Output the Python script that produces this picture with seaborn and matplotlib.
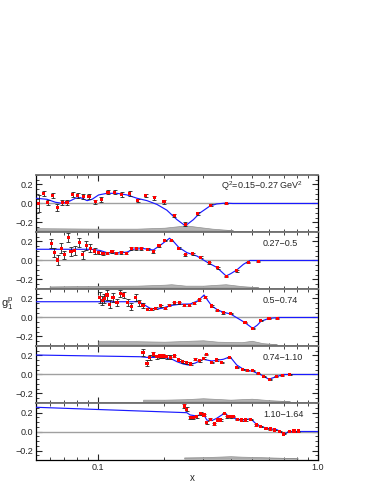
import matplotlib
matplotlib.use("Agg")
import matplotlib.pyplot as plt
from matplotlib.ticker import FixedLocator, MultipleLocator, NullFormatter
import seaborn as sns
import pandas as pd

# measured g1p in five Q^2 bins (x, value, stat error)
x1 = [0.0536, 0.0564, 0.0589, 0.062, 0.0649, 0.0684, 0.072, 0.0764, 0.0805, 0.0852, 0.0907, 0.0969,
      0.1032, 0.1107, 0.1186, 0.128, 0.139, 0.151, 0.164, 0.18, 0.199, 0.2216, 0.249, 0.283, 0.325, 0.382]
y1 = [0.0, 0.105, 0.007, 0.084, -0.045, 0.007, 0.014, 0.095, 0.084, 0.077, 0.07, 0.018,
      0.042, 0.12, 0.12, 0.095, 0.105, 0.032, 0.084, 0.06, 0.018, -0.126, -0.22, -0.105, -0.018, -0.003]
e1 = [0.09, 0.03, 0.025, 0.03, 0.035, 0.025, 0.025, 0.025, 0.025, 0.025, 0.025, 0.02,
      0.025, 0.025, 0.025, 0.025, 0.025, 0.02, 0.02, 0.02, 0.02, 0.02, 0.02, 0.015, 0.01, 0.005]

x2 = [0.061, 0.0631, 0.0653, 0.0677, 0.070, 0.0728, 0.0751, 0.078, 0.082, 0.0848, 0.0882, 0.092, 0.0962,
      0.1003, 0.105, 0.110, 0.1154, 0.1207, 0.127, 0.134, 0.141, 0.149, 0.157, 0.1675, 0.178, 0.189,
      0.201, 0.215, 0.232, 0.249, 0.269, 0.292, 0.32, 0.349, 0.382, 0.427, 0.482, 0.535]
y2 = [0.178, 0.085, 0.005, 0.13, 0.06, 0.24, 0.095, 0.106, 0.19, 0.06, 0.157, 0.13, 0.1,
      0.085, 0.07, 0.078, 0.095, 0.078, 0.085, 0.078, 0.13, 0.13, 0.13, 0.12, 0.095, 0.157,
      0.21, 0.21, 0.13, 0.06, 0.07, 0.035, -0.024, -0.078, -0.168, -0.11, -0.024, -0.013]
e2 = [0.05, 0.045, 0.055, 0.05, 0.045, 0.045, 0.045, 0.045, 0.05, 0.045, 0.05, 0.04, 0.03,
      0.015, 0.012, 0.012, 0.012, 0.012, 0.012, 0.012, 0.015, 0.015, 0.015, 0.012, 0.012, 0.012,
      0.01, 0.01, 0.01, 0.008, 0.008, 0.008, 0.008, 0.008, 0.008, 0.008, 0.005, 0.005]

x3 = [0.1014, 0.104, 0.1065, 0.1095, 0.1126, 0.1166, 0.1216, 0.1259, 0.1303, 0.1359, 0.1413, 0.1477,
      0.1536, 0.1597, 0.1675, 0.1754, 0.1829, 0.1928, 0.2016, 0.2109, 0.2215, 0.2335, 0.246, 0.2592,
      0.274, 0.2887, 0.3064, 0.3287, 0.3486, 0.3711, 0.401, 0.4656, 0.505, 0.549, 0.599, 0.653]
y3 = [0.21, 0.177, 0.2, 0.237, 0.14, 0.21, 0.156, 0.255, 0.237, 0.156, 0.114, 0.213,
      0.156, 0.13, 0.086, 0.086, 0.097, 0.124, 0.097, 0.13, 0.156, 0.156, 0.13, 0.13,
      0.15, 0.184, 0.213, 0.121, 0.072, 0.05, 0.044, -0.055, -0.114, -0.034, -0.008, -0.008]
e3 = [0.06, 0.05, 0.05, 0.05, 0.045, 0.045, 0.04, 0.035, 0.035, 0.04, 0.04, 0.035,
      0.03, 0.025, 0.01, 0.01, 0.01, 0.01, 0.01, 0.01, 0.01, 0.01, 0.01, 0.01,
      0.008, 0.008, 0.008, 0.008, 0.008, 0.008, 0.008, 0.006, 0.006, 0.005, 0.005, 0.005]

x4 = [0.1597, 0.1665, 0.171, 0.178, 0.185, 0.191, 0.198, 0.205, 0.2125, 0.2215, 0.232, 0.2425,
      0.253, 0.2638, 0.276, 0.289, 0.3013, 0.31, 0.329, 0.346, 0.365, 0.395, 0.427, 0.455,
      0.477, 0.505, 0.535, 0.566, 0.603, 0.646, 0.688, 0.745]
y4 = [0.23, 0.118, 0.18, 0.216, 0.187, 0.195, 0.195, 0.187, 0.18, 0.195, 0.153, 0.135,
      0.124, 0.11, 0.16, 0.145, 0.17, 0.21, 0.124, 0.153, 0.124, 0.18, 0.076, 0.055,
      0.04, 0.04, 0.012, -0.023, -0.05, -0.023, -0.01, 0.0]
e4 = [0.035, 0.03, 0.025, 0.02, 0.02, 0.02, 0.02, 0.02, 0.02, 0.015, 0.015, 0.012,
      0.012, 0.012, 0.01, 0.01, 0.01, 0.01, 0.008, 0.008, 0.008, 0.008, 0.006, 0.006,
      0.006, 0.006, 0.005, 0.005, 0.005, 0.005, 0.005, 0.005]

x5 = [0.246, 0.253, 0.262, 0.271, 0.281, 0.293, 0.303, 0.312, 0.323, 0.337, 0.349, 0.361, 0.374,
      0.387, 0.401, 0.412, 0.43, 0.45, 0.47, 0.494, 0.523, 0.548, 0.58, 0.606, 0.635, 0.67,
      0.70, 0.74, 0.778, 0.813]
y5 = [0.268, 0.234, 0.15, 0.15, 0.156, 0.19, 0.174, 0.093, 0.128, 0.079, 0.121, 0.121, 0.19,
      0.156, 0.156, 0.156, 0.128, 0.121, 0.121, 0.128, 0.068, 0.05, 0.034, 0.026, 0.016, -0.002,
      -0.026, -0.002, 0.005, 0.005]
e5 = [0.02, 0.02, 0.015, 0.015, 0.015, 0.015, 0.015, 0.015, 0.012, 0.012, 0.012, 0.01, 0.01,
      0.01, 0.01, 0.008, 0.008, 0.008, 0.008, 0.008, 0.006, 0.006, 0.005, 0.005, 0.005, 0.005,
      0.005, 0.005, 0.005, 0.005]

# model curves
cx1 = [0.052, 0.0584, 0.0637, 0.0684, 0.0733, 0.0786, 0.0828, 0.0889, 0.0936, 0.1003, 0.1095, 0.1216,
       0.135, 0.15, 0.1665, 0.185, 0.205, 0.228, 0.249, 0.271, 0.29, 0.323, 0.346, 0.378, 0.41, 1.0]
cy1 = [0.055, 0.044, 0.013, 0.002, 0.02, 0.055, 0.062, 0.03, 0.044, 0.09, 0.107, 0.107,
       0.09, 0.055, 0.03, -0.01, -0.07, -0.17, -0.235, -0.17, -0.1, -0.025, -0.005, 0.004, 0.0, 0.0]

cx2 = [0.052, 0.093, 0.102, 0.1095, 0.1216, 0.135, 0.145, 0.161, 0.178, 0.195, 0.211, 0.22,
       0.232, 0.253, 0.281, 0.316, 0.346, 0.382, 0.40, 0.427, 0.458, 0.49, 0.535, 1.0]
cy2 = [0.118, 0.118, 0.105, 0.082, 0.078, 0.088, 0.12, 0.125, 0.11, 0.174, 0.234, 0.2,
       0.14, 0.083, 0.047, -0.024, -0.072, -0.163, -0.14, -0.1, -0.04, 0.0, 0.0, 0.0]

cx3 = [0.052, 0.152, 0.16, 0.172, 0.185, 0.197, 0.212, 0.236, 0.262, 0.285, 0.303, 0.314,
       0.329, 0.35, 0.371, 0.40, 0.44, 0.466, 0.505, 0.53, 0.55, 0.598, 0.66, 1.0]
cy3 = [0.166, 0.166, 0.14, 0.097, 0.088, 0.1, 0.125, 0.14, 0.142, 0.177, 0.237, 0.184,
       0.12, 0.079, 0.055, 0.037, -0.02, -0.055, -0.115, -0.08, -0.04, -0.01, 0.0, 0.0]

cx4 = [0.052, 0.155, 0.1665, 0.185, 0.2125, 0.228, 0.244, 0.257, 0.276, 0.285, 0.30, 0.329,
       0.371, 0.398, 0.427, 0.458, 0.509, 0.553, 0.598, 0.646, 0.694, 1.0]
cy4 = [0.205, 0.187, 0.18, 0.18, 0.17, 0.135, 0.11, 0.1, 0.12, 0.135, 0.16, 0.142,
       0.16, 0.187, 0.1, 0.055, 0.03, -0.005, -0.05, -0.023, 0.0, 0.0]

cx5 = [0.052, 0.253, 0.262, 0.281, 0.30, 0.312, 0.329, 0.346, 0.374, 0.398, 0.427, 0.458,
       0.494, 0.523, 0.553, 0.60, 0.65, 0.70, 0.745, 1.0]
cy5 = [0.255, 0.198, 0.174, 0.163, 0.19, 0.12, 0.115, 0.139, 0.19, 0.156, 0.13, 0.121,
       0.135, 0.08, 0.05, 0.03, 0.02, -0.026, 0.0, 0.0]

# systematic error bands (height above the band floor)
bx1 = [0.052, 0.1, 0.15, 0.2, 0.23, 0.25, 0.28, 0.33, 0.41]
bh1 = [0.025, 0.02, 0.02, 0.03, 0.045, 0.055, 0.04, 0.02, 0.003]
bx2 = [0.06, 0.1, 0.15, 0.2, 0.215, 0.25, 0.3, 0.38, 0.45, 0.535]
bh2 = [0.012, 0.018, 0.02, 0.03, 0.035, 0.02, 0.02, 0.035, 0.015, 0.003]
bx3 = [0.1, 0.15, 0.2, 0.3, 0.35, 0.45, 0.5, 0.56, 0.65]
bh3 = [0.035, 0.035, 0.03, 0.045, 0.03, 0.025, 0.04, 0.015, 0.003]
bx4 = [0.16, 0.2, 0.25, 0.3, 0.4, 0.5, 0.6, 0.745]
bh4 = [0.02, 0.02, 0.025, 0.035, 0.02, 0.03, 0.015, 0.003]
bx5 = [0.246, 0.3, 0.35, 0.4, 0.45, 0.55, 0.65, 0.81]
bh5 = [0.012, 0.015, 0.02, 0.025, 0.02, 0.015, 0.01, 0.003]

bin_labels = [r"$\mathregular{Q^2}$=0.15$-$0.27 GeV$\mathregular{^2}$",
              "0.27\u22120.5", "0.5\u22120.74", "0.74\u22121.10", "1.10\u22121.64"]

sns.set_style("ticks")
plt.rcParams["font.family"] = ["Liberation Sans", "DejaVu Sans"]
plt.rcParams["mathtext.fontset"] = "custom"
plt.rcParams["mathtext.rm"] = "Liberation Sans"

fig, axes = plt.subplots(5, 1, sharex=True, figsize=(3.83, 4.95), dpi=100)
fig.subplots_adjust(left=0.094, right=0.830, top=0.6465, bottom=0.0707, hspace=0)

panels = [(x1, y1, e1, cx1, cy1, bx1, bh1), (x2, y2, e2, cx2, cy2, bx2, bh2),
          (x3, y3, e3, cx3, cy3, bx3, bh3), (x4, y4, e4, cx4, cy4, bx4, bh4),
          (x5, y5, e5, cx5, cy5, bx5, bh5)]
floor = -0.285

for i, (ax, (xs, ys, es, cx, cy, bx, bh)) in enumerate(zip(axes, panels)):
    ax.set_xscale("log")
    ax.axhline(0, color="#a0a0a0", lw=1.0, zorder=1)

    band = pd.DataFrame({"x": bx, "top": [floor + h for h in bh]})
    ax.fill_between(band["x"], floor, band["top"], color="#b4b4b4", edgecolor="#909090", lw=0.5, zorder=2)

    curve = pd.DataFrame({"x": cx, "y": cy})
    sns.lineplot(data=curve, x="x", y="y", ax=ax, color="#1a1aff", lw=0.85, sort=False,
                 estimator=None, zorder=3)

    pts = pd.DataFrame({"x": xs, "y": ys, "err": es})
    ax.errorbar(pts["x"], pts["y"], yerr=pts["err"], fmt="none", ecolor="#202020",
                elinewidth=0.6, capsize=1.2, capthick=0.6, zorder=4)
    sns.scatterplot(data=pts, x="x", y="y", ax=ax, color="red", marker="s", s=5,
                    edgecolor="none", zorder=5)

    ax.set_xlim(0.052, 1.0)
    ax.set_ylim(-0.3, 0.3)
    ax.set_ylabel("")
    ax.set_xlabel("")
    ax.yaxis.set_major_locator(FixedLocator([-0.2, 0.0, 0.2]))
    ax.set_yticklabels(["\u22120.2", "0.0", "0.2"])
    ax.yaxis.set_minor_locator(MultipleLocator(0.05))
    ax.xaxis.set_major_locator(FixedLocator([0.1, 1.0]))
    ax.xaxis.set_minor_locator(FixedLocator([0.06, 0.07, 0.08, 0.09, 0.2, 0.3, 0.4, 0.5,
                                             0.6, 0.7, 0.8, 0.9]))
    ax.xaxis.set_minor_formatter(NullFormatter())
    ax.tick_params(which="both", direction="in", top=True, right=True, labelsize=6.5, pad=2)
    ax.tick_params(which="major", length=4.5, width=0.8)
    ax.tick_params(which="minor", length=2.5, width=0.6)

    for side in ["left", "right"]:
        ax.spines[side].set_color("black")
        ax.spines[side].set_linewidth(0.9)
    for side in ["top", "bottom"]:
        ax.spines[side].set_color("#707070")
        ax.spines[side].set_linewidth(1.3)

    if i == 0:
        ax.text(0.947, 0.81, bin_labels[i], transform=ax.transAxes, ha="right", va="center",
                fontsize=6.5)
    else:
        ax.text(0.805, 0.79, bin_labels[i], transform=ax.transAxes, ha="left", va="center",
                fontsize=6.5)

axes[-1].spines["bottom"].set_color("black")
axes[-1].spines["bottom"].set_linewidth(0.9)
axes[-1].set_xticklabels(["0.1", "1.0"])
axes[-1].set_xlabel("x", fontsize=7)
axes[-1].xaxis.set_label_coords(0.553, -0.22)

axes[2].set_ylabel(r"$\mathregular{g_1^p}$", fontsize=8, rotation=0, ha="center", va="center")
axes[2].yaxis.set_label_coords(-0.103, 0.74)

fig.savefig("out.png", dpi=100)
plt.close(fig)
